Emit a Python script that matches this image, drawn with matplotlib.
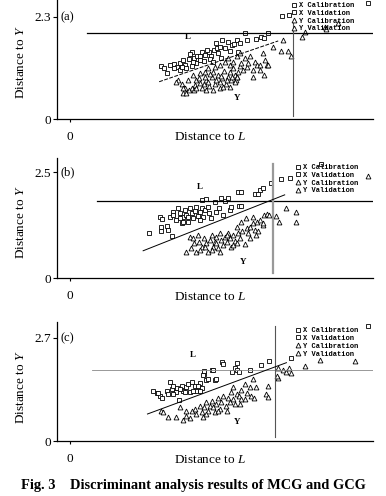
import numpy as np
import matplotlib
matplotlib.use("Agg")
import matplotlib.pyplot as plt

plt.rcParams["font.family"] = ["Liberation Serif", "DejaVu Serif"]
plt.rcParams["mathtext.fontset"] = "custom"
plt.rcParams["mathtext.rm"] = "Liberation Serif"
plt.rcParams["mathtext.it"] = "Liberation Serif:italic"

# ---- panel (a) ----
a_xcal = np.array([
    [2.10, 1.20], [2.17, 1.14], [2.23, 1.03], [2.32, 1.22], [2.40, 1.24], [2.48, 1.18],
    [2.55, 1.27], [2.62, 1.32], [2.66, 1.21], [2.74, 1.35], [2.81, 1.52], [2.86, 1.37],
    [2.94, 1.41], [3.00, 1.32], [3.05, 1.50], [3.12, 1.44], [3.20, 1.52], [3.26, 1.41],
    [3.32, 1.56], [3.37, 1.71], [3.43, 1.48], [3.48, 1.37], [3.52, 1.78], [3.58, 1.59],
    [3.69, 1.54], [3.75, 1.67], [3.86, 1.78], [3.88, 1.52], [3.92, 1.72], [4.04, 1.93],
    [4.29, 1.80], [4.42, 1.86], [4.48, 1.83], [4.58, 1.95]])
a_xval = np.array([
    [2.54, 1.11], [2.69, 1.14], [2.83, 1.20], [2.92, 1.26], [3.09, 1.30], [3.23, 1.35],
    [2.40, 1.14], [2.58, 1.18], [3.00, 1.42], [3.17, 1.56], [2.78, 1.47], [3.40, 1.59],
    [3.65, 1.74], [3.78, 1.69], [4.09, 1.77], [4.90, 2.33], [5.06, 2.35], [6.88, 2.62],
    [3.46, 1.63], [2.85, 1.29], [3.31, 1.29]])
a_ycal = np.array([
    [2.60, 0.58], [2.69, 0.59], [2.75, 0.65], [2.65, 0.69], [2.58, 0.80], [2.50, 0.88],
    [2.46, 0.84], [2.81, 0.69], [2.88, 0.77], [2.92, 0.88], [2.98, 0.92], [3.04, 0.71],
    [3.09, 0.80], [3.15, 0.88], [3.22, 0.74], [3.27, 0.94], [3.31, 0.65], [3.35, 0.80],
    [3.38, 0.89], [3.42, 0.99], [3.46, 0.84], [3.52, 0.92], [3.55, 1.09], [3.60, 0.80],
    [3.65, 0.95], [3.69, 1.05], [3.73, 0.88], [3.77, 1.14], [3.81, 0.99], [3.85, 0.94],
    [3.88, 1.07], [3.92, 1.20], [3.96, 1.27], [4.00, 1.11], [4.04, 1.37], [4.08, 1.18],
    [4.12, 1.26], [4.15, 1.41], [4.23, 1.11], [4.27, 1.29], [4.31, 1.22], [4.38, 1.22],
    [4.46, 1.48], [4.48, 0.99], [4.54, 1.22], [4.58, 1.22], [4.69, 1.63], [4.92, 1.77],
    [4.88, 1.54], [5.04, 1.54], [5.10, 1.42]])
a_yval = np.array([
    [4.38, 1.11], [2.85, 0.99], [2.73, 0.88], [3.00, 1.03], [3.12, 1.07], [3.19, 1.14],
    [3.35, 1.18], [3.46, 1.22], [3.58, 1.29], [3.65, 1.37], [3.69, 1.22], [3.77, 1.29],
    [3.85, 1.41], [3.92, 1.48], [3.31, 1.07], [3.23, 1.02], [3.46, 0.69], [3.15, 0.65],
    [2.86, 0.65], [3.00, 0.82], [3.54, 0.73], [3.69, 0.73], [3.83, 0.88], [4.23, 0.94],
    [4.50, 1.33], [3.12, 0.94], [3.19, 0.84], [3.50, 0.97], [3.62, 0.88], [3.75, 0.94],
    [3.86, 0.95], [3.81, 0.84], [2.92, 0.71], [2.60, 0.71],
    [5.35, 1.85], [5.42, 1.96], [5.88, 2.08], [5.92, 2.04], [6.18, 2.17]])

# ---- panel (b) ----
b_xcal = np.array([
    [1.82, 1.08], [2.08, 1.44], [2.12, 1.40], [2.10, 1.22], [2.10, 1.12], [2.25, 1.24],
    [2.27, 1.14], [2.35, 1.01], [2.32, 1.45], [2.37, 1.57], [2.46, 1.38], [2.50, 1.65],
    [2.54, 1.53], [2.58, 1.30], [2.60, 1.45], [2.65, 1.61], [2.69, 1.49], [2.73, 1.34],
    [2.77, 1.67], [2.81, 1.53], [2.85, 1.42], [2.88, 1.59], [2.92, 1.69], [2.96, 1.48],
    [3.00, 1.57], [3.04, 1.65], [3.06, 1.85], [3.08, 1.45], [3.12, 1.61], [3.15, 1.87],
    [3.19, 1.69], [3.22, 1.53], [3.25, 1.42]])
b_xval = np.array([
    [3.35, 1.81], [3.38, 1.56], [3.45, 1.67], [3.48, 1.90], [3.54, 1.49], [3.58, 1.82],
    [3.65, 1.89], [3.69, 1.61], [3.71, 1.69], [3.88, 2.03], [3.96, 2.04], [3.91, 1.71],
    [3.96, 1.71], [4.27, 2.00], [4.35, 2.00], [4.38, 2.08], [4.45, 2.12], [4.65, 2.24],
    [4.88, 2.34], [5.08, 2.36], [5.81, 2.71], [2.62, 1.34], [2.38, 1.49], [2.54, 1.43],
    [2.73, 1.45], [3.00, 1.38]])
b_ycal = np.array([
    [2.69, 0.61], [2.79, 0.71], [2.86, 0.83], [2.92, 0.63], [2.98, 0.86], [3.04, 0.75],
    [3.09, 0.96], [3.14, 0.83], [3.19, 0.63], [3.23, 0.90], [3.28, 1.02], [3.31, 0.75],
    [3.35, 0.85], [3.38, 0.98], [3.42, 0.71], [3.46, 1.06], [3.50, 0.90], [3.54, 0.79],
    [3.58, 0.98], [3.62, 0.86], [3.65, 1.08], [3.69, 0.94], [3.73, 0.75], [3.77, 1.02],
    [3.81, 0.88], [3.85, 1.22], [3.88, 1.06], [3.92, 0.94], [3.98, 1.12], [4.04, 0.80],
    [4.08, 1.18], [4.12, 1.06], [4.17, 1.22], [4.23, 1.30], [4.27, 1.14], [4.31, 1.34],
    [4.35, 1.12], [4.38, 1.38], [4.45, 1.27], [4.48, 1.49], [4.54, 1.51], [4.60, 1.49]])
b_yval = np.array([
    [4.06, 1.43], [4.23, 1.45], [4.75, 1.47], [4.83, 1.32], [4.98, 1.67], [5.22, 1.56],
    [5.22, 1.32], [6.88, 2.42], [2.77, 0.98], [2.96, 1.02], [3.00, 0.67], [3.12, 0.75],
    [3.38, 0.83], [3.62, 1.02], [3.85, 0.83], [3.96, 1.34], [4.15, 0.94], [2.85, 0.94],
    [3.27, 0.67], [3.46, 0.63], [3.77, 0.79], [4.46, 1.30], [4.29, 1.02]])

# ---- panel (c) ----
c_xcal = np.array([
    [1.91, 1.31], [2.00, 1.25], [2.08, 1.17], [2.25, 1.32], [2.27, 1.24], [2.31, 1.54],
    [2.35, 1.37], [2.38, 1.45], [2.45, 1.28], [2.48, 1.39], [2.52, 1.08], [2.58, 1.45],
    [2.62, 1.32], [2.69, 1.41], [2.73, 1.50], [2.78, 1.28], [2.81, 1.54], [2.88, 1.45],
    [2.92, 1.32], [3.00, 1.52], [3.04, 1.39], [3.09, 1.76], [3.09, 1.83], [3.15, 1.59],
    [3.19, 1.63], [3.27, 1.85], [3.35, 1.60], [3.38, 1.63]])
c_xval = np.array([
    [3.52, 2.06], [3.54, 2.02], [3.75, 1.80], [3.81, 1.92], [3.85, 2.04], [3.86, 1.86],
    [3.91, 1.80], [4.15, 1.85], [4.42, 2.00], [4.60, 2.09], [5.10, 2.18], [6.88, 3.01],
    [2.54, 1.37], [2.65, 1.28], [2.85, 1.32], [2.96, 1.43], [2.38, 1.24], [3.00, 1.32],
    [3.07, 1.72], [3.30, 1.85], [2.03, 1.25], [2.12, 1.14]])
c_ycal = np.array([
    [2.10, 0.78], [2.15, 0.76], [2.27, 0.64], [2.44, 0.64], [2.60, 0.56], [2.77, 0.61],
    [2.69, 0.80], [2.81, 0.80], [2.88, 0.84], [2.92, 0.71], [3.00, 0.91], [3.04, 0.76],
    [3.09, 0.89], [3.14, 1.02], [3.19, 0.80], [3.23, 0.93], [3.29, 1.06], [3.35, 0.76],
    [3.38, 0.98], [3.42, 1.13], [3.46, 0.84], [3.50, 1.02], [3.54, 1.19], [3.60, 0.93],
    [3.65, 1.13], [3.69, 1.02], [3.73, 1.28], [3.77, 1.11], [3.81, 0.98], [3.85, 1.24],
    [3.91, 1.17], [3.96, 1.34], [4.04, 1.11], [4.09, 1.25], [4.15, 1.41], [4.19, 1.19],
    [4.25, 1.13], [4.29, 1.41]])
c_yval = np.array([
    [4.04, 1.50], [4.23, 1.63], [4.52, 1.24], [4.58, 1.15], [4.58, 1.43], [4.81, 1.66],
    [4.79, 1.69], [4.81, 1.92], [4.92, 1.85], [5.00, 1.80], [5.05, 1.92], [5.11, 1.78],
    [5.42, 1.96], [5.78, 2.13], [6.58, 2.09], [2.54, 0.89], [3.15, 0.71], [3.42, 0.80],
    [3.62, 0.80], [3.92, 0.98], [3.08, 0.63], [3.31, 0.89], [2.69, 0.67], [3.96, 1.11],
    [3.77, 1.41]])

# reference lines: horizontal threshold, vertical threshold, discriminant line
h_y = [1.93, 1.82, 1.86]
h_x0 = [0.40, 0.62, 0.50]
v_x = [5.15, 4.68, 4.73]
v_y = [(0.07, 2.18), (0.12, 2.71), (0.12, 3.02)]
diag = [((2.06, 0.84), (4.81, 1.76)),
        ((1.69, 0.65), (4.96, 1.97)),
        ((1.79, 0.71), (5.00, 2.05))]
ytop_tick = [2.3, 2.5, 2.7]
panel_tags = ["(a)", "(b)", "(c)"]
L_pos = [(2.73, 1.86), (3.00, 2.16), (2.85, 2.24)]
Y_pos = [(3.86, 0.47), (4.00, 0.38), (3.86, 0.50)]
labels = ["X Calibration", "X Validation", "Y Calibration", "Y Validation"]

W, H = 386, 496
fig = plt.figure(figsize=(W / 100, H / 100), dpi=100)

# axes boxes in pixels: (top, bottom), plus y range
boxes = [(0, 119), (158, 278.3), (321.7, 441.2)]
ymax = [2.683, 2.84, 3.12]
leg_pos = [(291, 2), (295, 164), (295, 327)]
v_style = [dict(color="#555555", lw=0.8), dict(color="#999999", lw=1.6),
           dict(color="#555555", lw=0.8)]
h_style = [dict(color="black", lw=0.9), dict(color="black", lw=0.9),
           dict(color="#888888", lw=0.6)]
diag_ls = ["--", "-", "-"]
ylab_y = [0.48, 0.47, 0.45]

panels = [(a_xcal, a_xval, a_ycal, a_yval),
          (b_xcal, b_xval, b_ycal, b_yval),
          (c_xcal, c_xval, c_ycal, c_yval)]

for i, (xcal, xval, ycal, yval) in enumerate(panels):
    top, bot = boxes[i]
    ax = fig.add_axes([57 / W, 1 - bot / H, 316 / W, (bot - top) / H])
    ax.set_xlim(-0.30, 7.0)
    ax.set_ylim(0, ymax[i])
    for s in ["top", "right"]:
        ax.spines[s].set_visible(False)
    for s in ["left", "bottom"]:
        ax.spines[s].set_linewidth(0.9)

    sq = dict(marker="s", ms=3.4, mfc="white", mec="black", mew=0.6, ls="none")
    tr = dict(marker="^", ms=3.5, mfc="white", mec="black", mew=0.6, ls="none")
    h1, = ax.plot(xcal[:, 0], xcal[:, 1], label=labels[0], **sq)
    h2, = ax.plot(xval[:, 0], xval[:, 1], label=labels[1], **sq)
    h3, = ax.plot(ycal[:, 0], ycal[:, 1], label=labels[2], **tr)
    h4, = ax.plot(yval[:, 0], yval[:, 1], label=labels[3], **tr)
    for h in (h1, h2, h3, h4):
        h.set_clip_on(False)

    ax.plot([h_x0[i], 7.0], [h_y[i], h_y[i]], **h_style[i])
    ax.plot([v_x[i], v_x[i]], v_y[i], **v_style[i])
    (x0, y0), (x1, y1) = diag[i]
    ax.plot([x0, x1], [y0, y1], color="black", lw=0.7, ls=diag_ls[i],
            dashes=(4, 1.5) if diag_ls[i] == "--" else (None, None))

    ax.set_yticks([0, ytop_tick[i]])
    ax.set_yticklabels(["0", str(ytop_tick[i])])
    ax.set_xticks([0])
    ax.set_xticklabels(["0"])
    ax.tick_params(axis="y", length=3, width=0.8, pad=1.5, labelsize=9.5)
    ax.tick_params(axis="x", length=2.5, width=0.8, pad=6, labelsize=9.5)

    ax.set_xlabel("Distance to $L$", fontsize=9.5)
    ax.xaxis.set_label_coords(0.484, -0.105)
    ax.set_ylabel("Distance to $Y$", fontsize=9.5)
    ax.yaxis.set_label_coords(-0.095, ylab_y[i])

    ax.text(-0.22, ytop_tick[i], panel_tags[i], fontsize=9, va="center", ha="left")
    ax.text(*L_pos[i], "L", fontsize=6.5, fontweight="bold", ha="center", va="center")
    ax.text(*Y_pos[i], "Y", fontsize=6.5, fontweight="bold", ha="center", va="center")

    lx, ly = leg_pos[i]
    ax.legend(handles=[h1, h2, h3, h4], loc="upper left",
              bbox_to_anchor=(lx / W, 1 - ly / H), bbox_transform=fig.transFigure,
              frameon=False, borderpad=0, borderaxespad=0, handlelength=0.8,
              handletextpad=0.3, labelspacing=0.12,
              prop=dict(family="Liberation Mono", weight="bold", size=5))

fig.text(0.5, 1 - 486 / H, "Fig. 3    Discriminant analysis results of MCG and GCG",
         ha="center", va="center", fontsize=10.4, fontweight="bold")

fig.savefig("out.png", dpi=100)
